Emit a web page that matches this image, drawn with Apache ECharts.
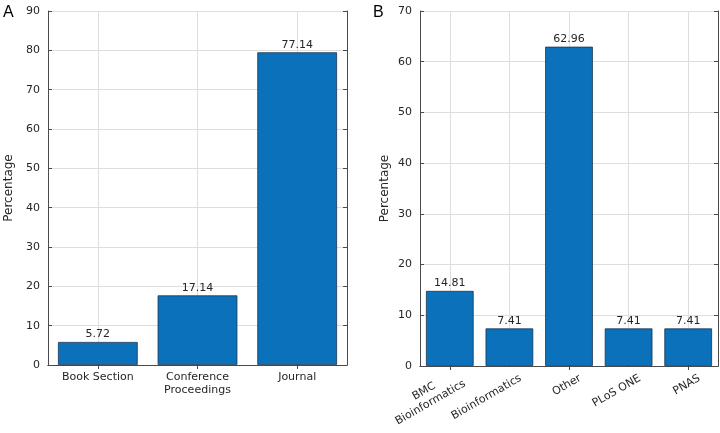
<!DOCTYPE html>
<html>
<head>
<meta charset="utf-8">
<script src="https://cdn.jsdelivr.net/npm/echarts@6/dist/echarts.min.js"></script>
<style>
html,body{margin:0;padding:0;background:#fff;}
#chart{width:720px;height:433px;}
</style>
</head>
<body>
<div id="chart"></div>
<script>
// ---- Data ----
const categoriesA = ['Book Section', 'Conference\nProceedings', 'Journal'];
const valuesA = [5.85, 17.7, 79.5];          // bar heights as drawn
const labelsA = ['5.72', '17.14', '77.14'];  // printed labels
const yTicksA = { min: 0, max: 90, step: 10 };

const categoriesB = ['BMC\nBioinformatics', 'Bioinformatics', 'Other', 'PLoS ONE', 'PNAS'];
const valuesB = [14.81, 7.41, 62.96, 7.41, 7.41];
const labelsB = ['14.81', '7.41', '62.96', '7.41', '7.41'];
const yTicksB = { min: 0, max: 70, step: 10 };

const panelLetters = ['A', 'B'];
const yTitle = 'Percentage';

// ---- Styles ----
const FONT = 'DejaVu Sans';
const TXT = '#262626';
const AX = '#4a4a4a';
const GRIDC = '#dedede';
const BAR = '#0b71ba';
const BARB = '#1a3550';

const chart = echarts.init(document.getElementById('chart'), null, { renderer: 'canvas' });

function xAxes(gridIndex, cats, isB) {
  const bottom = {
    type: 'category', gridIndex, data: cats, position: 'bottom',
    axisLine: { show: true, lineStyle: { color: AX, width: 1 } },
    axisTick: { show: true, inside: true, length: 4, alignWithLabel: true, lineStyle: { color: AX } },
    splitLine: { show: true, alignWithLabel: true, lineStyle: { color: GRIDC, width: 1 } },
    axisLabel: isB ? {
      rotate: 30, margin: 18, padding: [0, -13, 0, 0],
      fontFamily: FONT, fontSize: 11, color: TXT, interval: 0,
      formatter: v => v.indexOf('\n') >= 0 ? v.split('\n').map(s => '{c|' + s + '}').join('\n') : v,
      rich: { c: { width: 78, align: 'center', fontFamily: FONT, fontSize: 11, color: TXT, lineHeight: 13 } }
    } : {
      margin: 6, fontFamily: FONT, fontSize: 11, color: TXT, lineHeight: 13, interval: 0
    }
  };
  const top = {
    type: 'category', gridIndex, data: cats, position: 'top',
    axisLine: { show: true, lineStyle: { color: AX, width: 1 } },
    axisTick: { show: true, inside: true, length: 4, alignWithLabel: true, lineStyle: { color: AX } },
    axisLabel: { show: false }, splitLine: { show: false }
  };
  return [bottom, top];
}

function yAxes(gridIndex, t, gap) {
  const left = {
    type: 'value', gridIndex, min: t.min, max: t.max, interval: t.step, position: 'left',
    name: yTitle, nameLocation: 'middle', nameGap: gap,
    nameTextStyle: { fontFamily: FONT, fontSize: 12, color: TXT },
    axisLine: { show: true, lineStyle: { color: AX, width: 1 } },
    axisTick: { show: true, inside: true, length: 4, lineStyle: { color: AX } },
    splitLine: { show: true, lineStyle: { color: GRIDC, width: 1 } },
    axisLabel: { fontFamily: FONT, fontSize: 11, color: TXT, margin: 8 }
  };
  const right = {
    type: 'value', gridIndex, min: t.min, max: t.max, interval: t.step, position: 'right',
    axisLine: { show: true, lineStyle: { color: AX, width: 1 } },
    axisTick: { show: true, inside: true, length: 4, lineStyle: { color: AX } },
    splitLine: { show: false }, axisLabel: { show: false }
  };
  return [left, right];
}

function barSeries(xi, yi, vals, labs) {
  return {
    type: 'bar', xAxisIndex: xi, yAxisIndex: yi, data: vals, barWidth: '80%',
    itemStyle: { color: BAR, borderColor: BARB, borderWidth: 0.8 },
    label: {
      show: true, position: 'top', distance: 2,
      fontFamily: FONT, fontSize: 11, color: TXT,
      formatter: p => labs[p.dataIndex]
    },
    z: 3
  };
}

const xa = xAxes(0, categoriesA, false);
const xb = xAxes(1, categoriesB, true);
const ya = yAxes(0, yTicksA, 33);
const yb = yAxes(1, yTicksB, 29);

const letterStyle = { fontFamily: 'Liberation Sans', fontSize: 16, fontWeight: 'normal', color: '#000' };

chart.setOption({
  animation: false,
  backgroundColor: '#fff',
  title: [
    { text: panelLetters[0], left: 3, top: 5, padding: 0, textStyle: letterStyle },
    { text: panelLetters[1], left: 373, top: 5, padding: 0, textStyle: letterStyle }
  ],
  grid: [
    { left: 48, top: 11, width: 299, height: 354, containLabel: false },
    { left: 420, top: 11, width: 298, height: 355, containLabel: false }
  ],
  xAxis: [xa[0], xa[1], xb[0], xb[1]],
  yAxis: [ya[0], ya[1], yb[0], yb[1]],
  series: [
    barSeries(0, 0, valuesA, labelsA),
    barSeries(2, 2, valuesB, labelsB)
  ]
});
</script>
</body>
</html>
